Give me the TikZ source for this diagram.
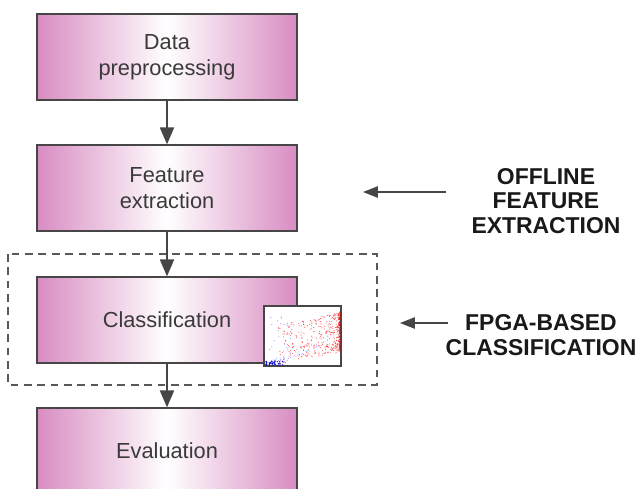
\documentclass[tikz,border=0pt]{standalone}
\usepackage{fontspec}
\setmainfont{Liberation Sans}
\usetikzlibrary{arrows.meta}
\definecolor{boxpink}{RGB}{216,140,194}
\definecolor{boxline}{RGB}{70,70,70}
\definecolor{txtgray}{RGB}{58,58,58}

\begin{document}
\begin{tikzpicture}[x=0.025cm,y=-0.025cm,
    stage/.style={draw=boxline,line width=0.9pt,left color=boxpink,right color=boxpink,middle color=white,
        minimum width=6.5cm,minimum height=2.15cm,align=center,text=txtgray,
        font=\fontsize{15.5}{18.5}\selectfont},
    flow/.style={draw=boxline,line width=1.1pt,-{Triangle[length=12pt,width=10pt]}},
    side/.style={draw=boxline,line width=1.1pt,-{Triangle[length=10.5pt,width=8pt]}},
    phase/.style={align=center,inner sep=0pt,text=black!90,font=\bfseries\fontsize{16.3}{17.4}\selectfont}]
    \useasboundingbox (0,0) rectangle (638,488);

    \node[stage] (prep) at (167,57) {Data\\preprocessing};
    \node[stage] (feat) at (167,188) {Feature\\extraction};
    \node[stage] (clas) at (167,320) {Classification};
    \node[stage] (eval) at (167,451) {Evaluation};

    \draw[boxline!90,line width=1pt,dash pattern=on 5.5pt off 4pt] (8,254) rectangle (377,385);
    \draw[flow] (prep) -- (feat);
    \draw[flow] (feat) -- (clas);
    \draw[flow] (clas) -- (eval);

    \node[draw=boxline,fill=white,line width=0.9pt,minimum width=1.9cm,minimum height=1.5cm,inner sep=0pt] (plot) at (302.5,336) {};
    \begin{scope}
        \clip (plot.south west) rectangle (plot.north east);
        \pgfmathsetseed{17}
        \foreach \i in {1,...,420}{
            \pgfmathsetmacro\ra{rnd}\pgfmathsetmacro\rb{rnd}
            \pgfmathsetmacro\px{340-62*\ra*\ra*\ra}
            \pgfmathsetmacro\py{348-(\px-265)*0.22+20*(2*\rb-1)}
            \fill[red,opacity=0.6] (\px,\py) circle (0.42pt);
        }
        \foreach \i in {1,...,45}{
            \pgfmathsetmacro\ra{rnd}\pgfmathsetmacro\rb{rnd}
            \pgfmathsetmacro\px{268+50*\ra}
            \pgfmathsetmacro\py{364-(\px-265)*0.35+3*(2*\rb-1)}
            \fill[blue!70,opacity=0.5] (\px,\py) circle (0.4pt);
        }
        \foreach \i in {1,...,40}{
            \pgfmathsetmacro\ra{rnd}\pgfmathsetmacro\rb{rnd}
            \fill[blue!80!black,opacity=0.8] (266+18*\ra*\ra,361+4*\rb) circle (0.55pt);
        }
        \foreach \i in {1,...,22}{
            \pgfmathsetmacro\ra{rnd}\pgfmathsetmacro\rb{rnd}
            \fill[blue!70,opacity=0.5] (268+24*\ra,314+36*\rb) circle (0.45pt);
        }
    \end{scope}
    \draw[draw=boxline,line width=0.9pt] (plot.south west) rectangle (plot.north east);

    \node[phase] (offline) at (546,201) {OFFLINE\\FEATURE\\EXTRACTION};
    \node[phase] (fpga) at (541,335) {FPGA-BASED\\CLASSIFICATION};
    \coordinate (offtip) at (363,192);
    \coordinate (fpgatip) at (400,323);
    \draw[side,shorten <=0.625cm] (offline.west |- offtip) -- (offtip);
    \draw[side,shorten <=-0.075cm] (fpga.west |- fpgatip) -- (fpgatip);
\end{tikzpicture}
\end{document}
